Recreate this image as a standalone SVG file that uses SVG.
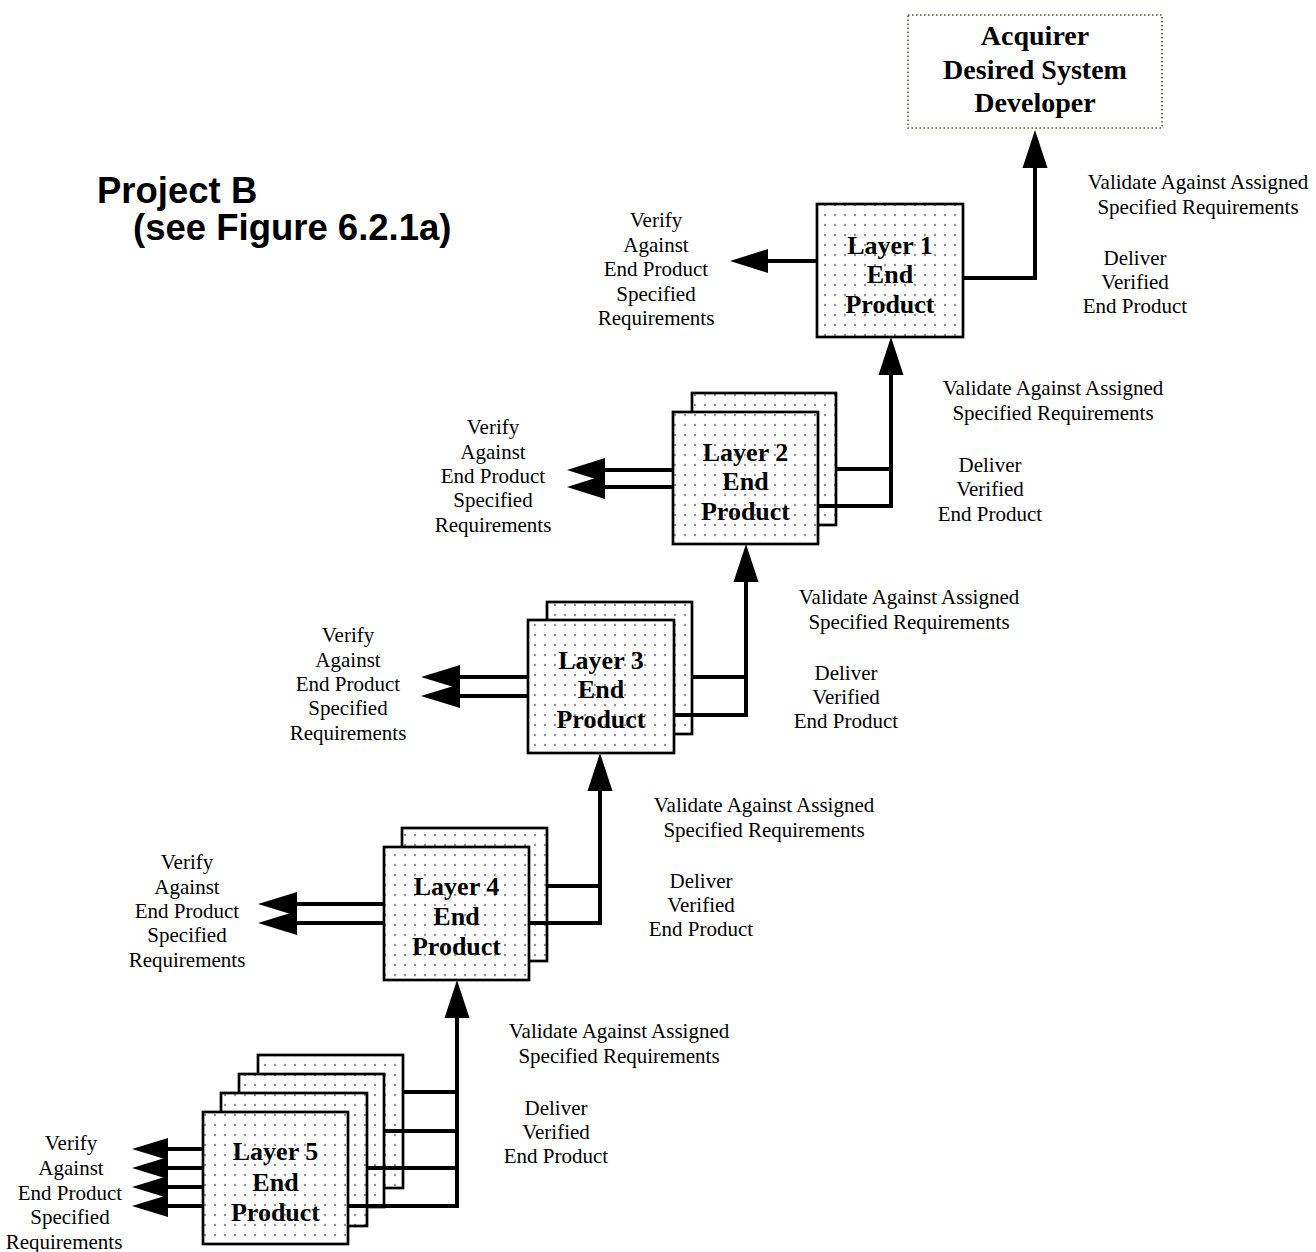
<svg xmlns="http://www.w3.org/2000/svg" width="1316" height="1252" viewBox="0 0 1316 1252">
<defs>
<pattern id="dots" width="10" height="10" patternUnits="userSpaceOnUse">
<rect width="10" height="10" fill="#ffffff"/>
<circle cx="5" cy="5" r="1.2" fill="#8f8f8f"/>
</pattern>
<style>
.box{fill:url(#dots);stroke:#000;stroke-width:2.7}
.bt{font-family:"Liberation Serif","Times New Roman",serif;font-weight:bold;font-size:26px;text-anchor:middle;fill:#000}
.tt{font-family:"Liberation Serif","Times New Roman",serif;font-weight:bold;font-size:28px;text-anchor:middle;fill:#000}
.lb{font-family:"Liberation Serif","Times New Roman",serif;font-size:21px;text-anchor:middle;fill:#000}
.ti{font-family:"Liberation Sans",Arial,sans-serif;font-weight:bold;font-size:36.5px;fill:#000}
.ln{fill:none;stroke:#000;stroke-width:4;stroke-linejoin:miter}
.ah{fill:#000;stroke:none}
</style>
</defs>
<rect width="1316" height="1252" fill="#ffffff"/>

<g id="title">
<text class="ti" x="97" y="203">Project B</text>
<text class="ti" x="133" y="240">(see Figure 6.2.1a)</text>
</g>

<g id="acquirer">
<rect x="908" y="15" width="254" height="113" fill="#ffffff" stroke="#5e5a2a" stroke-width="1.6" stroke-dasharray="1.6 2.4"/>
<text class="tt" x="1035" y="45">Acquirer</text>
<text class="tt" x="1035" y="79">Desired System</text>
<text class="tt" x="1035" y="112">Developer</text>
</g>

<g id="layer1">
<rect class="box" x="817" y="204" width="146" height="133"/>
<text class="bt" x="890" y="254">Layer 1</text>
<text class="bt" x="890" y="283">End</text>
<text class="bt" x="890" y="313">Product</text>
</g>

<g id="layer2">
<rect class="box" x="692" y="393" width="144" height="132"/>
<rect class="box" x="673" y="412" width="145" height="132"/>
<text class="bt" x="745.5" y="461">Layer 2</text>
<text class="bt" x="745.5" y="490">End</text>
<text class="bt" x="745.5" y="520">Product</text>
</g>

<g id="layer3">
<rect class="box" x="547" y="602" width="145" height="132"/>
<rect class="box" x="528" y="620" width="146" height="133"/>
<text class="bt" x="601" y="669">Layer 3</text>
<text class="bt" x="601" y="698">End</text>
<text class="bt" x="601" y="728">Product</text>
</g>

<g id="layer4">
<rect class="box" x="402" y="828" width="145" height="133"/>
<rect class="box" x="384" y="847" width="145" height="133"/>
<text class="bt" x="456.5" y="895">Layer 4</text>
<text class="bt" x="456.5" y="925">End</text>
<text class="bt" x="456.5" y="955">Product</text>
</g>

<g id="layer5">
<rect class="box" x="258" y="1055" width="145" height="133"/>
<rect class="box" x="239" y="1074" width="145" height="133"/>
<rect class="box" x="221" y="1093" width="146" height="133"/>
<rect class="box" x="203" y="1112" width="145" height="132"/>
<text class="bt" x="275.5" y="1160">Layer 5</text>
<text class="bt" x="275.5" y="1191">End</text>
<text class="bt" x="275.5" y="1221">Product</text>
</g>

<g id="connectors">
<polyline class="ln" points="963,278 1035,278 1035,166"/>
<polygon class="ah" points="1035,130 1022.5,168 1047.5,168"/>
<line class="ln" x1="817" y1="261" x2="766" y2="261"/>
<polygon class="ah" points="730,261 768,249 768,273"/>
<line class="ln" x1="836" y1="469" x2="891" y2="469"/>
<polyline class="ln" points="818,506 891,506 891,373"/>
<polygon class="ah" points="891,337 878.5,375 903.5,375"/>
<line class="ln" x1="673" y1="470" x2="603" y2="470"/>
<line class="ln" x1="673" y1="487" x2="603" y2="487"/>
<polygon class="ah" points="567,470 605,458 605,482"/>
<polygon class="ah" points="567,487 605,475 605,499"/>
<line class="ln" x1="692" y1="677" x2="746" y2="677"/>
<polyline class="ln" points="674,715 746,715 746,580"/>
<polygon class="ah" points="746,544 733.5,582 758.5,582"/>
<line class="ln" x1="528" y1="677" x2="458" y2="677"/>
<line class="ln" x1="528" y1="696" x2="458" y2="696"/>
<polygon class="ah" points="421,677 460,665 460,689"/>
<polygon class="ah" points="421,696 460,684 460,708"/>
<line class="ln" x1="547" y1="886" x2="600" y2="886"/>
<polyline class="ln" points="529,923 600,923 600,789"/>
<polygon class="ah" points="600,753 587.5,791 612.5,791"/>
<line class="ln" x1="384" y1="904" x2="295" y2="904"/>
<line class="ln" x1="384" y1="923" x2="295" y2="923"/>
<polygon class="ah" points="258,904 297,892 297,916"/>
<polygon class="ah" points="258,923 297,911 297,935"/>
<line class="ln" x1="403" y1="1092" x2="457" y2="1092"/>
<line class="ln" x1="384" y1="1131" x2="457" y2="1131"/>
<line class="ln" x1="367" y1="1168" x2="457" y2="1168"/>
<polyline class="ln" points="348,1206 457,1206 457,1016"/>
<polygon class="ah" points="457,980 444.5,1018 469.5,1018"/>
<line class="ln" x1="203" y1="1149" x2="166" y2="1149"/>
<line class="ln" x1="203" y1="1168" x2="166" y2="1168"/>
<line class="ln" x1="203" y1="1187" x2="166" y2="1187"/>
<line class="ln" x1="203" y1="1206" x2="166" y2="1206"/>
<polygon class="ah" points="132,1149 168,1138 168,1160"/>
<polygon class="ah" points="132,1168 168,1157 168,1179"/>
<polygon class="ah" points="132,1187 168,1176 168,1198"/>
<polygon class="ah" points="132,1206 168,1195 168,1217"/>
</g>

<g id="labels">
<text class="lb" x="1198" y="189">Validate Against Assigned</text>
<text class="lb" x="1198" y="214">Specified Requirements</text>
<text class="lb" x="1135" y="265">Deliver</text>
<text class="lb" x="1135" y="289">Verified</text>
<text class="lb" x="1135" y="313">End Product</text>
<text class="lb" x="656" y="227">Verify</text>
<text class="lb" x="656" y="251.5">Against</text>
<text class="lb" x="656" y="276">End Product</text>
<text class="lb" x="656" y="300.5">Specified</text>
<text class="lb" x="656" y="325">Requirements</text>

<text class="lb" x="1053" y="395">Validate Against Assigned</text>
<text class="lb" x="1053" y="420">Specified Requirements</text>
<text class="lb" x="990" y="472">Deliver</text>
<text class="lb" x="990" y="496">Verified</text>
<text class="lb" x="990" y="521">End Product</text>
<text class="lb" x="493" y="434">Verify</text>
<text class="lb" x="493" y="459">Against</text>
<text class="lb" x="493" y="483">End Product</text>
<text class="lb" x="493" y="507">Specified</text>
<text class="lb" x="493" y="532">Requirements</text>

<text class="lb" x="909" y="604">Validate Against Assigned</text>
<text class="lb" x="909" y="629">Specified Requirements</text>
<text class="lb" x="846" y="680">Deliver</text>
<text class="lb" x="846" y="704">Verified</text>
<text class="lb" x="846" y="728">End Product</text>
<text class="lb" x="348" y="642">Verify</text>
<text class="lb" x="348" y="667">Against</text>
<text class="lb" x="348" y="691">End Product</text>
<text class="lb" x="348" y="715">Specified</text>
<text class="lb" x="348" y="740">Requirements</text>

<text class="lb" x="764" y="812">Validate Against Assigned</text>
<text class="lb" x="764" y="837">Specified Requirements</text>
<text class="lb" x="701" y="888">Deliver</text>
<text class="lb" x="701" y="912">Verified</text>
<text class="lb" x="701" y="936">End Product</text>
<text class="lb" x="187" y="869">Verify</text>
<text class="lb" x="187" y="894">Against</text>
<text class="lb" x="187" y="918">End Product</text>
<text class="lb" x="187" y="942">Specified</text>
<text class="lb" x="187" y="967">Requirements</text>

<text class="lb" x="619" y="1038">Validate Against Assigned</text>
<text class="lb" x="619" y="1063">Specified Requirements</text>
<text class="lb" x="556" y="1115">Deliver</text>
<text class="lb" x="556" y="1139">Verified</text>
<text class="lb" x="556" y="1163">End Product</text>
<text class="lb" x="71" y="1150">Verify</text>
<text class="lb" x="71" y="1175">Against</text>
<text class="lb" x="70" y="1200">End Product</text>
<text class="lb" x="70" y="1224">Specified</text>
<text class="lb" x="64" y="1249">Requirements</text>
</g>
</svg>
